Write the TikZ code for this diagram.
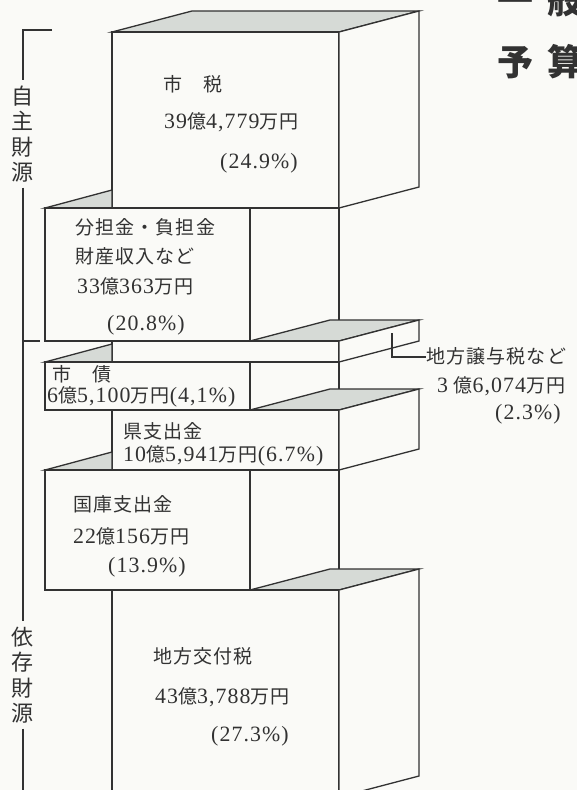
\documentclass[tikz,border=0pt]{standalone}
\usepackage{fontspec}
\usepackage{tikz}
\newfontfamily\jpfont[LetterSpace=6]{Noto Sans CJK JP}
\newfontfamily\numfont[Scale=1.15, LetterSpace=5]{Liberation Serif}
\newfontfamily\headfont{Noto Sans CJK JP}
\newcommand{\nm}[1]{{\numfont #1}}
\definecolor{paper}{RGB}{250,250,247}
\definecolor{shade}{RGB}{214,218,214}
\definecolor{ink}{RGB}{50,50,50}
\tikzset{
    x=1pt, y=-1pt, % one unit is one pixel of the page, y runs downwards
    }

\begin{document}
\begin{tikzpicture}[
face/.style={draw=ink, line width=1.3pt, fill=paper},
topface/.style={draw=ink, line width=1.3pt, fill=shade},
boxline/.style={draw=ink, line width=1.3pt},
txt/.style={anchor=west, inner sep=0pt, text=ink, font=\jpfont\fontsize{19}{21}\selectfont, text height=14pt, text depth=0.5pt},
vtxt/.style={inner xsep=1pt, inner ysep=5pt, text=ink, align=center, font=\jpfont\fontsize{22}{25.5}\selectfont},
head/.style={anchor=west, inner sep=0pt, text=ink, font=\headfont\bfseries\fontsize{36}{36}\selectfont},
]
\useasboundingbox (0,0) rectangle (577,790);
\clip (0,0) rectangle (577,790);
\fill[paper] (0,0) rectangle (577,790);

% shi-zei
\draw[topface] (112,32) -- (339,32) -- (419,11) -- (192,11) -- cycle;
\draw[face] (112,32) rectangle (339,208);
\draw[face] (339,32) -- (419,11) -- (419,187) -- (339,208) -- cycle;

% buntankin
\draw[topface] (45,208) -- (112,190) -- (112,208) -- cycle;
\draw[face] (45,208) rectangle (250,341);
\draw[boxline] (339,208) -- (339,320);

% jouyozei slab
\draw[topface] (250,341) -- (339,341) -- (419,320) -- (330,320) -- cycle;
\draw[face] (112,341) rectangle (339,362);
\draw[face] (339,341) -- (419,320) -- (419,341) -- (339,362) -- cycle;

% shisai
\draw[topface] (45,362) -- (112,344) -- (112,362) -- cycle;
\draw[face] (45,362) rectangle (250,410);
\draw[boxline] (339,362) -- (339,389);

% ken
\draw[topface] (250,410) -- (339,410) -- (419,389) -- (330,389) -- cycle;
\draw[face] (112,410) rectangle (339,470);
\draw[face] (339,410) -- (419,389) -- (419,449) -- (339,470) -- cycle;

% kokko
\draw[topface] (45,470) -- (112,452) -- (112,470) -- cycle;
\draw[face] (45,470) rectangle (250,590);
\draw[boxline] (339,470) -- (339,569);

% koufuzei
\draw[topface] (250,590) -- (339,590) -- (419,569) -- (330,569) -- cycle;
\draw[face] (112,590) rectangle (339,797);
\draw[face] (339,590) -- (419,569) -- (419,776) -- (339,797) -- cycle;

\node[txt] (shizei) at (163,85) {市　税};
\node[txt] (shizeiamt) at (164,122) {\nm{39}億\nm{4,779}万円};
\node[txt] (shizeipct) at (220,162) {\nm{(24.9\%)}};

\node[txt] (buntan) at (75,228) {分担金・負担金};
\node[txt] (zaisan) at (75,257) {財産収入など};
\node[txt] (buntanamt) at (77,287) {\nm{33}億\nm{363}万円};
\node[txt] (buntanpct) at (107,324) {\nm{(20.8\%)}};

\coordinate (jouyo) at (392,333);
\node[txt] (jouyolbl) at (426,357) {地方譲与税など};
\node[txt] (jouyoamt) at (437,386) {\nm{3} 億\nm{6,074}万円};
\node[txt] (jouyopct) at (495,413) {\nm{(2.3\%)}};
\draw[boxline] (jouyo) |- (jouyolbl.west);

\node[txt] (shisai) at (52,375) {市　債};
\node[txt] (shisaiamt) at (47,396) {\nm{6}億\nm{5,100}万円\nm{(4,1\%)}};

\node[txt] (ken) at (123,432) {県支出金};
\node[txt] (kenamt) at (123,455) {\nm{10}億\nm{5,941}万円\nm{(6.7\%)}};

\node[txt] (kokko) at (73,505) {国庫支出金};
\node[txt] (kokkoamt) at (73,537) {\nm{22}億\nm{156}万円};
\node[txt] (kokkopct) at (108,566) {\nm{(13.9\%)}};

\node[txt] (koufu) at (153,657) {地方交付税};
\node[txt] (koufuamt) at (155,697) {\nm{43}億\nm{3,788}万円};
\node[txt] (koufupct) at (211,735) {\nm{(27.3\%)}};

% bracket on the left
\node[vtxt] (jishu) at (23,134) {自\\主\\財\\源};
\node[vtxt] (izon) at (23,675) {依\\存\\財\\源};
\draw[boxline] (52,30) -- (23,30) -- (jishu.north);
\draw[boxline] (jishu.south) -- (izon.north);
\draw[boxline] (izon.south) -- (23,797);
\draw[boxline] (23,341) -- (40,341);

\node[head] (ippan) at (497,0) {一\hspace{14pt}般};
\node[head] (yosan) at (497,62) {予\hspace{14pt}算};
\end{tikzpicture}
\end{document}
